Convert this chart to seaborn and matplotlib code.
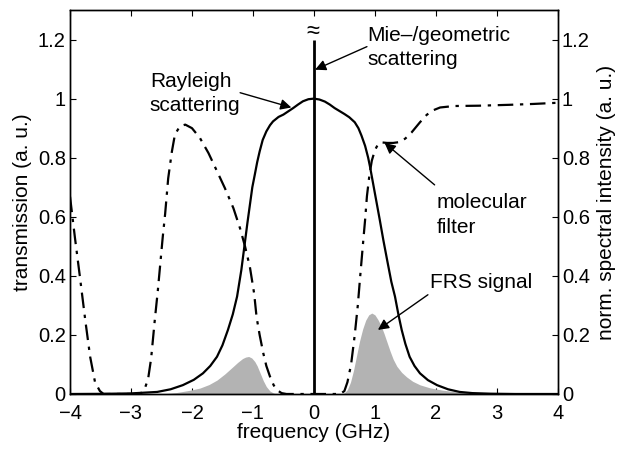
import numpy as np
import pandas as pd
import matplotlib
matplotlib.use("Agg")
import matplotlib.pyplot as plt
import seaborn as sns

# ---- data ----
filter_x = [-4.0, -3.92, -3.84, -3.75, -3.67, -3.59, -3.51, -3.45, -3.0, -2.85, -2.78, -2.72,
            -2.67, -2.61, -2.56, -2.52, -2.48, -2.44, -2.39, -2.33, -2.28, -2.20, -2.11, -2.0,
            -1.87, -1.73, -1.60, -1.46, -1.32, -1.21, -1.13, -1.05, -0.98, -0.94, -0.89, -0.83,
            -0.78, -0.72, -0.66, -0.61, -0.53, -0.45, 0.43, 0.5, 0.55, 0.61, 0.67, 0.72,
            0.76, 0.81, 0.84, 0.87, 0.91, 0.95, 1.0, 1.05, 1.1, 1.2, 1.3, 1.41,
            1.5, 1.6, 1.74, 1.85, 1.95, 2.07, 2.3, 2.7, 3.2, 3.6, 4.0]
filter_y = [0.668, 0.53, 0.40, 0.25, 0.126, 0.04, 0.01, 0.0, 0.0, 0.0, 0.015, 0.05,
            0.12, 0.25, 0.35, 0.44, 0.53, 0.61, 0.73, 0.82, 0.878, 0.906, 0.912, 0.90,
            0.867, 0.816, 0.759, 0.697, 0.629, 0.56, 0.50, 0.43, 0.34, 0.26, 0.20, 0.138,
            0.095, 0.059, 0.03, 0.014, 0.003, 0.0, 0.0, 0.01, 0.04, 0.10, 0.20, 0.30,
            0.40, 0.52, 0.59, 0.67, 0.74, 0.79, 0.825, 0.845, 0.852, 0.85, 0.85, 0.853,
            0.865, 0.885, 0.92, 0.945, 0.96, 0.97, 0.975, 0.976, 0.979, 0.982, 0.986]

rayleigh_x = [-4.0, -3.5, -3.0, -2.57, -2.35, -2.15, -1.97, -1.82, -1.7, -1.59, -1.5, -1.41,
              -1.33, -1.26, -1.19, -1.13, -1.09, -1.05, -1.01, -0.97, -0.93, -0.89, -0.84, -0.78,
              -0.72, -0.67, -0.58, -0.50, -0.42, -0.34, -0.26, -0.18, -0.09, 0.0, 0.09, 0.18,
              0.26, 0.34, 0.42, 0.5, 0.58, 0.67, 0.73, 0.78, 0.84, 0.89, 0.92, 0.96,
              1.0, 1.04, 1.08, 1.14, 1.21, 1.27, 1.33, 1.39, 1.44, 1.5, 1.57, 1.65,
              1.74, 1.87, 2.02, 2.2, 2.39, 2.6, 2.9, 3.3, 4.0]
rayleigh_y = [0.0, 0.0005, 0.002, 0.007, 0.016, 0.03, 0.048, 0.07, 0.095, 0.126, 0.165, 0.217,
              0.27, 0.33, 0.42, 0.516, 0.58, 0.64, 0.70, 0.742, 0.785, 0.821, 0.86, 0.889,
              0.91, 0.923, 0.938, 0.946, 0.957, 0.968, 0.98, 0.991, 0.998, 1.0, 0.997, 0.99,
              0.98, 0.968, 0.958, 0.948, 0.937, 0.92, 0.90, 0.875, 0.84, 0.80, 0.77, 0.725,
              0.68, 0.635, 0.59, 0.52, 0.444, 0.38, 0.33, 0.265, 0.217, 0.17, 0.126, 0.095,
              0.07, 0.047, 0.03, 0.016, 0.007, 0.003, 0.001, 0.0, 0.0]

frs_x = [-4.0, -2.6, -2.4, -2.25, -2.05, -1.87, -1.72, -1.59, -1.46, -1.33, -1.25, -1.17,
         -1.12, -1.07, -1.02, -0.97, -0.93, -0.88, -0.83, -0.78, -0.72, -0.66, -0.6, 0.45,
         0.5, 0.55, 0.6, 0.65, 0.7, 0.75, 0.8, 0.85, 0.9, 0.95, 1.0, 1.05,
         1.1, 1.15, 1.2, 1.25, 1.3, 1.36, 1.44, 1.52, 1.62, 1.74, 1.9, 2.11,
         2.35, 2.56, 2.8, 3.0, 4.0]
frs_y = [0.0, 0.0, 0.002, 0.005, 0.012, 0.02, 0.032, 0.047, 0.068, 0.092, 0.107, 0.12,
         0.125, 0.127, 0.122, 0.11, 0.095, 0.07, 0.045, 0.025, 0.01, 0.003, 0.0, 0.0,
         0.004, 0.015, 0.04, 0.08, 0.13, 0.18, 0.22, 0.25, 0.268, 0.274, 0.268, 0.252,
         0.232, 0.205, 0.175, 0.145, 0.118, 0.094, 0.073, 0.058, 0.043, 0.031, 0.021, 0.013,
         0.007, 0.004, 0.001, 0.0, 0.0]

mie_x = 0.0
mie_top = 1.2

x_ticks = [-4, -3, -2, -1, 0, 1, 2, 3, 4]
y_ticks = [0, 0.2, 0.4, 0.6, 0.8, 1.0, 1.2]
y_ticklabels = ["0", "0.2", "0.4", "0.6", "0.8", "1", "1.2"]

# ---- style ----
sns.set_style("ticks")
plt.rcParams["font.family"] = ["Liberation Sans", "DejaVu Sans"]
plt.rcParams["axes.linewidth"] = 1.0
for key in ["text.color", "axes.labelcolor", "xtick.color", "ytick.color",
            "axes.edgecolor"]:
    plt.rcParams[key] = "black"
fs = 15
tfs = 14.5

fig = plt.figure(figsize=(6.17, 4.49), dpi=100)
ax = fig.add_axes([0.1135, 0.1225, 0.904 - 0.1135, 0.9777 - 0.1225])

df_f = pd.DataFrame({"x": filter_x, "y": filter_y})
df_r = pd.DataFrame({"x": rayleigh_x, "y": rayleigh_y})

ax.fill_between(frs_x, 0, frs_y, color="#b3b3b3", lw=0, zorder=1)
sns.lineplot(data=df_r, x="x", y="y", ax=ax, color="k", lw=1.6, sort=False,
             estimator=None, zorder=3)
sns.lineplot(data=df_f, x="x", y="y", ax=ax, color="k", lw=1.6, sort=False,
             estimator=None, zorder=3, linestyle=(0, (7, 3, 1.5, 3)))
ax.vlines(mie_x, 0, mie_top, color="k", lw=2.0, zorder=4)
ax.text(mie_x - 0.02, 1.225, "≈", ha="center", va="center", fontsize=17)

ax.set_xlim(-4, 4)
ax.set_ylim(0, 1.3)
ax.set_xticks(x_ticks)
ax.set_yticks(y_ticks)
ax.set_yticklabels(y_ticklabels)
ax.tick_params(direction="in", length=4, width=0.8, top=True, right=False,
               labelsize=tfs, pad=3, colors="black")
ax.tick_params(axis="x", pad=7)
ax.set_xlabel("frequency (GHz)", fontsize=fs, labelpad=0)
ax.set_ylabel("transmission (a. u.)", fontsize=fs, labelpad=4)

ax2 = ax.twinx()
ax2.set_ylim(0, 1.3)
ax2.set_yticks(y_ticks)
ax2.set_yticklabels(y_ticklabels)
ax2.tick_params(direction="in", length=4, width=0.8, labelsize=tfs, pad=3,
                colors="black")
ax2.set_ylabel("norm. spectral intensity (a. u.)", fontsize=fs, labelpad=5)

for s in list(ax.spines.values()) + list(ax2.spines.values()):
    s.set_visible(True)
    s.set_linewidth(1.0)
    s.set_color("k")

aprops = dict(arrowstyle="-|>", color="k", lw=1.0, mutation_scale=16,
              shrinkA=0, shrinkB=0)
ax.annotate("", xy=(-0.37, 0.97), xytext=(-1.21, 1.02), arrowprops=aprops)
ax.annotate("", xy=(0.02, 1.098), xytext=(0.87, 1.176), arrowprops=aprops)
ax.annotate("", xy=(1.16, 0.85), xytext=(1.98, 0.708), arrowprops=aprops)
ax.annotate("", xy=(1.05, 0.217), xytext=(1.87, 0.336), arrowprops=aprops)

ax.text(-2.69, 1.017, "Rayleigh\nscattering", ha="left", va="center",
        fontsize=fs, linespacing=1.3)
ax.text(0.87, 1.173, "Mie–/geometric\nscattering", ha="left", va="center",
        fontsize=fs, linespacing=1.3)
ax.text(2.01, 0.607, "molecular\nfilter", ha="left", va="center",
        fontsize=fs, linespacing=1.4)
ax.text(1.90, 0.376, "FRS signal", ha="left", va="center", fontsize=fs)

fig.savefig("out.png", dpi=100)
